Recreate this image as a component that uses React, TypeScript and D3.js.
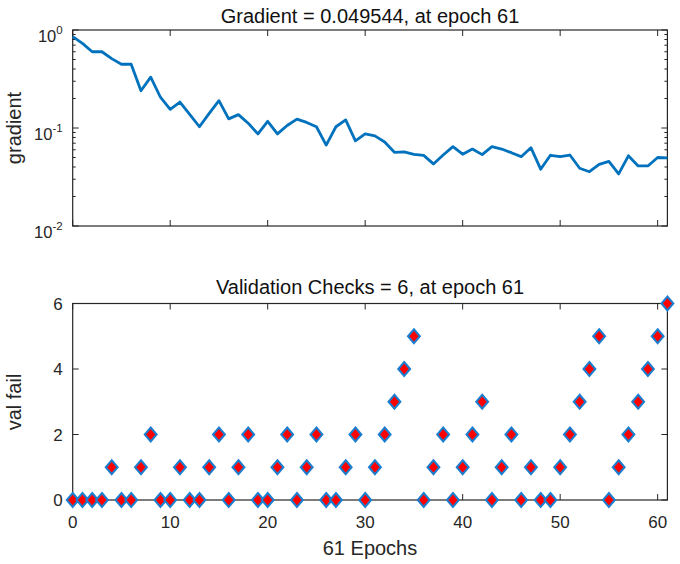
import React from "react";
import * as d3 from "d3";

const epochs: number[] = d3.range(0, 62);
const gradient: number[] = [
  0.855, 0.73, 0.6, 0.6, 0.51, 0.447, 0.447, 0.24, 0.33, 0.206,
  0.155, 0.184, 0.138, 0.103, 0.141, 0.19, 0.124, 0.137, 0.112, 0.087,
  0.117, 0.087, 0.106, 0.123, 0.114, 0.103, 0.067, 0.103, 0.121, 0.074,
  0.087, 0.083, 0.072, 0.0565, 0.057, 0.0538, 0.0525, 0.043, 0.053, 0.0645,
  0.054, 0.061, 0.0535, 0.0645, 0.061, 0.056, 0.051, 0.063, 0.038, 0.0527,
  0.051, 0.053, 0.0388, 0.0358, 0.0426, 0.0457, 0.034, 0.052, 0.041, 0.041,
  0.05, 0.049544,
];
const valFail: number[] = [
  0, 0, 0, 0, 1, 0, 0, 1, 2, 0,
  0, 1, 0, 0, 1, 2, 0, 1, 2, 0,
  0, 1, 2, 0, 1, 2, 0, 0, 1, 2,
  0, 1, 2, 3, 4, 5, 0, 1, 2, 0,
  1, 2, 3, 0, 1, 2, 0, 1, 0, 0,
  1, 2, 3, 4, 5, 0, 1, 2, 3, 4,
  5, 6,
];
const xTicks: number[] = [0, 10, 20, 30, 40, 50, 60];
const logMajor: number[] = [1, 0.1, 0.01];
const valTicks: number[] = [0, 2, 4, 6];
const titleTop = "Gradient = 0.049544, at epoch 61";
const titleBottom = "Validation Checks = 6, at epoch 61";
const yLabelTop = "gradient";
const yLabelBottom = "val fail";
const xLabel = "61 Epochs";

const FONT = "'Liberation Sans', Arial, Helvetica, sans-serif";
const AX = "#262626";
const BLUE = "#0072BD";

export default function App() {
  const L = 72.7, R = 667.4;
  const x = d3.scaleLinear().domain([0, 61]).range([L, R]);
  const yT = d3.scaleLog().domain([0.01, 1]).range([226, 30]);
  const yB = d3.scaleLinear().domain([0, 6]).range([500, 303.5]);

  const line = d3
    .line<number>()
    .x((_, i) => x(epochs[i]))
    .y((d) => yT(d));

  const minor: number[] = [];
  [0.01, 0.1].forEach((b) => {
    for (let k = 2; k <= 9; k++) minor.push(b * k);
  });

  const tickLen = 6;
  const minorLen = 3;
  const ds = 7;
  const diamond = (cx: number, cy: number) =>
    `M${cx},${cy - ds}L${cx + ds * 0.85},${cy}L${cx},${cy + ds}L${cx - ds * 0.85},${cy}Z`;

  return (
    <svg width={680} height={564} style={{ position: "absolute", left: 0, top: 0, background: "#fff" }}>
      <rect width={680} height={564} fill="#fff" />
      {/* Top plot */}
      <text x={370} y={23} textAnchor="middle" fontFamily={FONT} fontSize={20} fill="#111">{titleTop}</text>
      <rect x={L} y={30} width={R - L} height={196} fill="none" stroke={AX} strokeWidth={1.2} />
      {xTicks.map((t) => (
        <g key={"tt" + t}>
          <line x1={x(t)} x2={x(t)} y1={226} y2={226 - tickLen} stroke={AX} />
          <line x1={x(t)} x2={x(t)} y1={30} y2={30 + tickLen} stroke={AX} />
        </g>
      ))}
      {logMajor.map((t) => (
        <g key={"lm" + t}>
          <line x1={L} x2={L + tickLen} y1={yT(t)} y2={yT(t)} stroke={AX} />
          <line x1={R} x2={R - tickLen} y1={yT(t)} y2={yT(t)} stroke={AX} />
        </g>
      ))}
      {minor.map((t) => (
        <g key={"mn" + t}>
          <line x1={L} x2={L + minorLen} y1={yT(t)} y2={yT(t)} stroke={AX} />
          <line x1={R} x2={R - minorLen} y1={yT(t)} y2={yT(t)} stroke={AX} />
        </g>
      ))}
      {logMajor.map((t) => {
        const e = Math.round(Math.log10(t));
        return (
          <text key={"ll" + t} x={L - 10} y={yT(t) + 12} textAnchor="end" fontFamily={FONT} fontSize={16.5} fill={AX}>
            10<tspan dy={-8} fontSize={11.5}>{String(e)}</tspan>
          </text>
        );
      })}
      <text transform={`translate(21,128) rotate(-90)`} textAnchor="middle" fontFamily={FONT} fontSize={20} fill={AX}>{yLabelTop}</text>
      <path d={line(gradient) || ""} fill="none" stroke={BLUE} strokeWidth={2.8} strokeLinejoin="round" />

      {/* Bottom plot */}
      <text x={370} y={294} textAnchor="middle" fontFamily={FONT} fontSize={20} fill="#111">{titleBottom}</text>
      <rect x={L} y={303.5} width={R - L} height={196.5} fill="none" stroke={AX} strokeWidth={1.2} />
      {xTicks.map((t) => (
        <g key={"bt" + t}>
          <line x1={x(t)} x2={x(t)} y1={500} y2={500 - tickLen} stroke={AX} />
          <line x1={x(t)} x2={x(t)} y1={303.5} y2={303.5 + tickLen} stroke={AX} />
          <text x={x(t)} y={528} textAnchor="middle" fontFamily={FONT} fontSize={17} fill={AX}>{t}</text>
        </g>
      ))}
      {valTicks.map((t) => (
        <g key={"vt" + t}>
          <line x1={L} x2={L + tickLen} y1={yB(t)} y2={yB(t)} stroke={AX} />
          <line x1={R} x2={R - tickLen} y1={yB(t)} y2={yB(t)} stroke={AX} />
          <text x={L - 10} y={yB(t) + 6} textAnchor="end" fontFamily={FONT} fontSize={17} fill={AX}>{t}</text>
        </g>
      ))}
      <text transform={`translate(21,402) rotate(-90)`} textAnchor="middle" fontFamily={FONT} fontSize={20} fill={AX}>{yLabelBottom}</text>
      <text x={370} y={555} textAnchor="middle" fontFamily={FONT} fontSize={20} fill={AX}>{xLabel}</text>
      {valFail.map((v, i) => (
        <path key={"d" + i} d={diamond(x(epochs[i]), yB(v))} fill="#ff0000" stroke="#1a7fd0" strokeWidth={2} />
      ))}
    </svg>
  );
}
